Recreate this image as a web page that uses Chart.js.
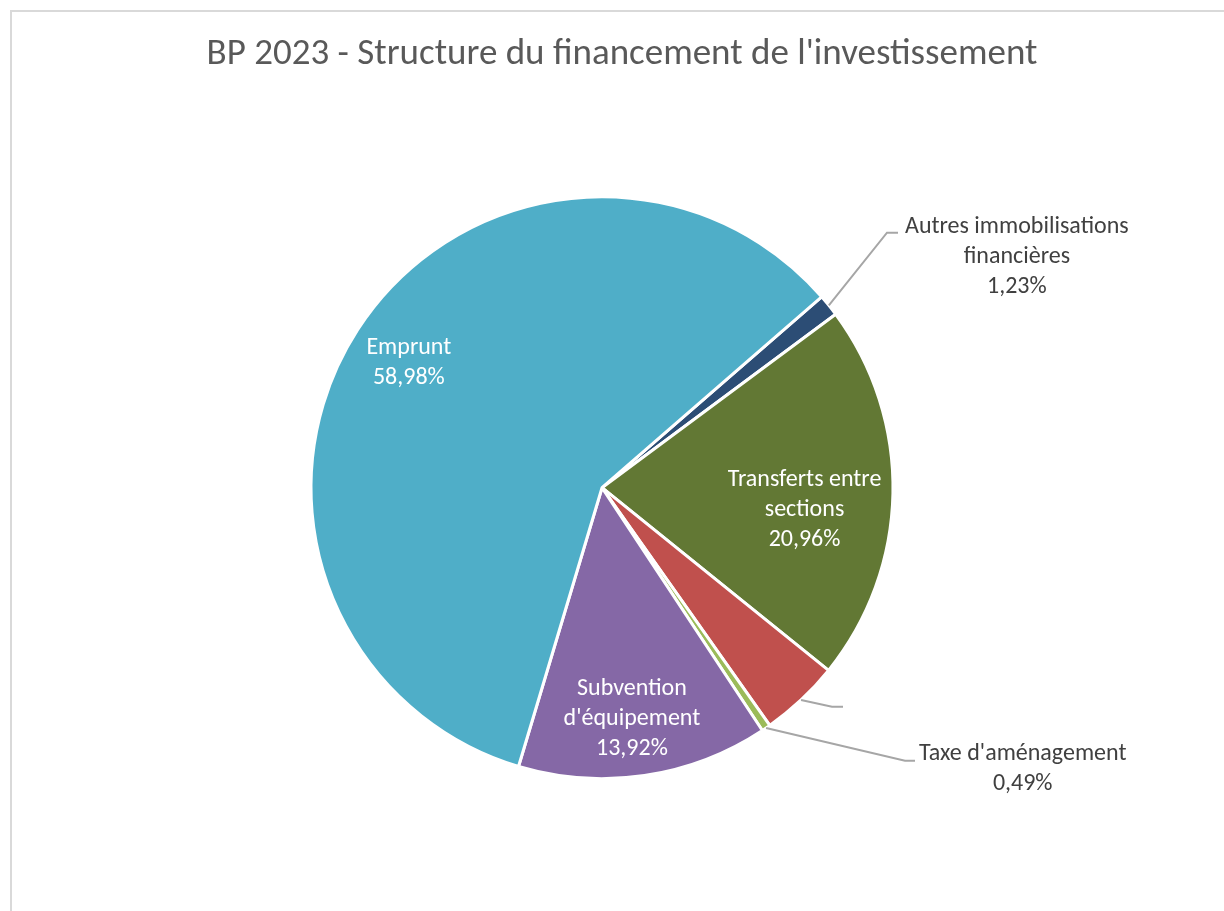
<!DOCTYPE html>
<html lang="fr">
<head>
<meta charset="UTF-8">
<title>BP 2023 - Structure du financement de l'investissement</title>
<script src="https://cdn.jsdelivr.net/npm/chart.js@4.4.1/dist/chart.umd.min.js"></script>
<style>
  html, body { margin: 0; padding: 0; background: #fff; }
  #wrap { width: 1224px; height: 911px; }
</style>
</head>
<body>
<div id="wrap"><canvas id="myChart" width="1224" height="911"></canvas></div>
<script>
// data, clockwise from the top-right
const categories = ["Autres immobilisations financières", "Transferts entre sections", "Autres recettes", "Taxe d'aménagement", "Subvention d'équipement", "Emprunt"];
const shares = [1.23, 20.96, 4.42, 0.49, 13.92, 58.98];
const labelNames = [["Autres immobilisations", "financières"], ["Transferts entre", "sections"], [], ["Taxe d'aménagement"], ["Subvention", "d'équipement"], ["Emprunt"]];
const sliceColors = ['#2C4D75', '#627834', '#C0504D', '#9BBB59', '#8568A6', '#4FAEC8'];

const FONT = "Carlito, Calibri, Lato, sans-serif";

// where each data label goes (inside = polar from centre, outside = leader line + elbow)
const labelPlace = [
  { out: true, elbow: [285, -255], tail: 11, gap: 7, firstDy: -6 },
  { out: false, r: 0.70, turn: 5 },
  { out: true, elbow: [230, 219], tail: 11, gap: 0, firstDy: 0 },
  { out: true, elbow: [303, 273], tail: 10, gap: 4, firstDy: -7 },
  { out: false, r: 0.80, turn: 1 },
  { out: false, r: 0.79, turn: 0 }
];

function pct(v) { return v.toFixed(2).replace('.', ',') + '%'; }

const frame = {
  id: 'frame',
  afterLayout(chart) {
    // pie sits 20px left of the title centre
    chart.chartArea.right -= 40;
    chart.chartArea.width -= 40;
  },
  beforeDraw(chart) {
    const ctx = chart.ctx;
    ctx.save();
    ctx.strokeStyle = '#D9D9D9';
    ctx.lineWidth = 2;
    ctx.beginPath();
    ctx.moveTo(11, 911);
    ctx.lineTo(11, 11);
    ctx.lineTo(1224, 11);
    ctx.stroke();
    ctx.restore();
  }
};

const dataLabels = {
  id: 'dataLabels',
  afterDatasetsDraw(chart) {
    const ctx = chart.ctx;
    const arcs = chart.getDatasetMeta(0).data;
    const lh = 30;
    ctx.save();
    ctx.font = '24px ' + FONT;
    ctx.textBaseline = 'middle';
    ctx.textAlign = 'center';
    arcs.forEach((arc, i) => {
      const p = labelPlace[i];
      const mid = (arc.startAngle + arc.endAngle) / 2;
      const lines = labelNames[i].length ? labelNames[i].concat([pct(shares[i])]) : [];
      if (!p.out) {
        const a = mid + p.turn * Math.PI / 180;
        const r = arc.outerRadius * p.r;
        const cx = arc.x + Math.cos(a) * r;
        const cy = arc.y + Math.sin(a) * r;
        ctx.fillStyle = '#FFFFFF';
        lines.forEach((t, k) => ctx.fillText(t, cx, cy + (k - (lines.length - 1) / 2) * lh));
      } else {
        const sx = arc.x + Math.cos(mid) * arc.outerRadius;
        const sy = arc.y + Math.sin(mid) * arc.outerRadius;
        const ex = arc.x + p.elbow[0];
        const ey = arc.y + p.elbow[1];
        ctx.strokeStyle = '#A6A6A6';
        ctx.lineWidth = 2;
        ctx.beginPath();
        ctx.moveTo(sx, sy);
        ctx.lineTo(ex, ey);
        ctx.lineTo(ex + p.tail, ey);
        ctx.stroke();
        if (lines.length) {
          const w = Math.max(...lines.map(t => ctx.measureText(t).width));
          const cx = ex + p.tail + p.gap + w / 2;
          ctx.fillStyle = '#404040';
          lines.forEach((t, k) => ctx.fillText(t, cx, ey + p.firstDy + k * lh));
        }
      }
    });
    ctx.restore();
  }
};

const ctx = document.getElementById('myChart').getContext('2d');
const myChart = new Chart(ctx, {
  type: 'pie',
  data: {
    labels: categories,
    datasets: [{
      data: shares,
      backgroundColor: sliceColors,
      borderColor: '#FFFFFF',
      borderWidth: 3,
      radius: 291
    }]
  },
  options: {
    responsive: false,
    animation: false,
    rotation: 49,
    layout: { padding: { left: 20, right: 0, top: 0, bottom: 20 } },
    plugins: {
      legend: { display: false },
      tooltip: { enabled: false },
      title: {
        display: true,
        text: "BP 2023 - Structure du financement de l'investissement",
        color: '#595959',
        font: { family: FONT, size: 37, weight: 'normal' },
        padding: { top: 33, bottom: 7 }
      }
    }
  },
  plugins: [frame, dataLabels]
});
</script>
</body>
</html>
